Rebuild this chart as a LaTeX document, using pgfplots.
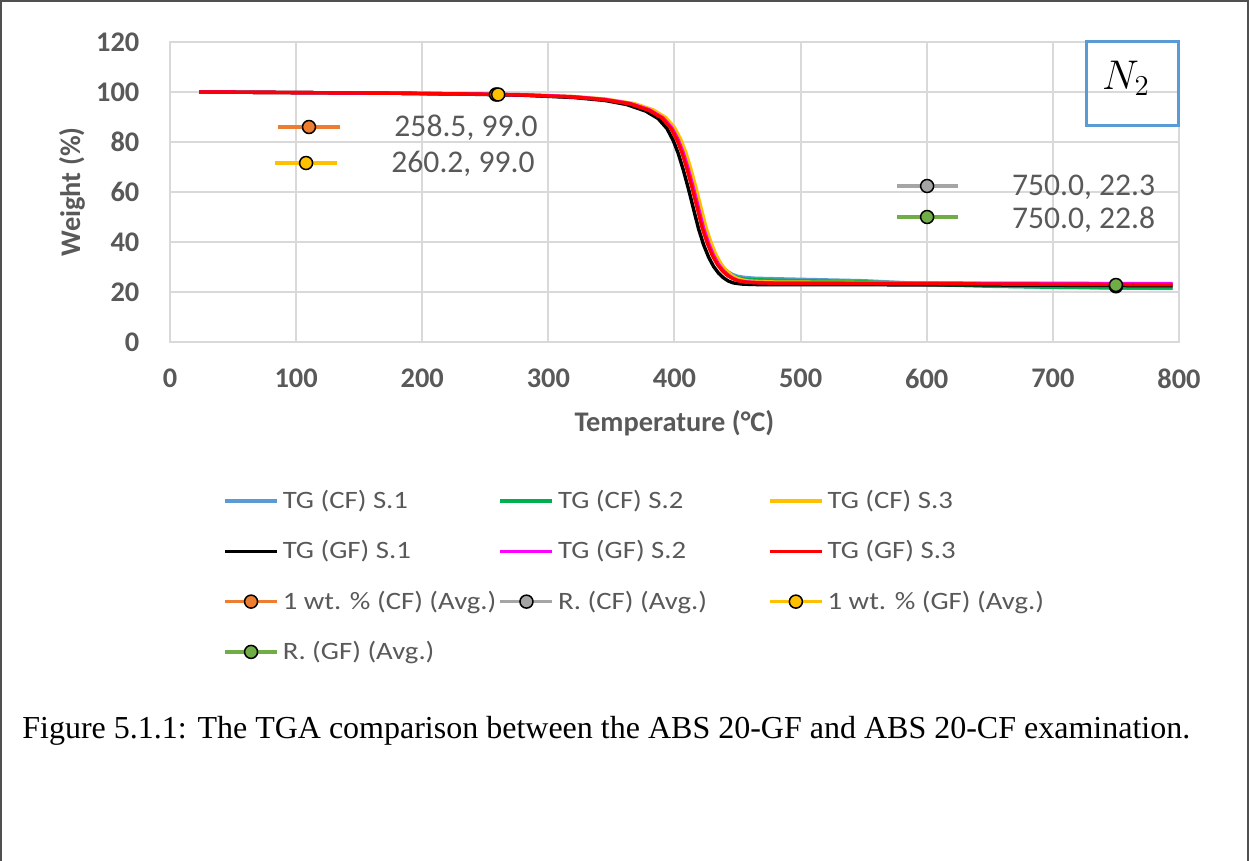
\documentclass[border=0pt]{standalone}
\usepackage{fontspec}
\setmainfont{Carlito}
\newfontfamily\legfont{Carlito}[FakeStretch=1.15]
\newfontfamily\capfont{Liberation Serif}
\usepackage{pgfplots}
\pgfplotsset{compat=1.18}

\definecolor{txtgray}{RGB}{89,89,89}
\definecolor{gridgray}{RGB}{217,217,217}
\definecolor{cfblue}{RGB}{91,155,213}
\definecolor{cfgreen}{RGB}{0,176,80}
\definecolor{cfyellow}{RGB}{255,192,0}
\definecolor{gfmagenta}{RGB}{255,0,255}
\definecolor{gfred}{RGB}{255,0,0}
\definecolor{avgorange}{RGB}{237,125,49}
\definecolor{avggray}{RGB}{165,165,165}
\definecolor{avggold}{RGB}{255,192,0}
\definecolor{avggreen}{RGB}{112,173,71}
\definecolor{framegray}{RGB}{80,80,80}

\begin{document}
\begin{tikzpicture}
% page = 1249x861 px at 0.5pt per px
\path[use as bounding box] (0pt,0pt) rectangle (624.5pt,-430.5pt);
\draw[framegray, line width=1pt] (0.5pt,-430.5pt) -- (0.5pt,-0.5pt) -- (623.9pt,-0.5pt) -- (623.9pt,-430.5pt);

\begin{axis}[
  at={(85pt,-171pt)}, anchor=south west,
  scale only axis, width=504.5pt, height=150pt,
  xmin=0, xmax=800, ymin=0, ymax=120,
  xtick={0,100,...,800}, ytick={0,20,...,120},
  grid=major,
  grid style={gridgray, line width=1pt},
  axis line style={gridgray, line width=1pt},
  major tick length=0pt,
  clip=false,
  /pgf/number format/assume math mode=true,
  tick label style={font=\fontsize{14.2}{14.2}\selectfont\bfseries, text=txtgray},
  xticklabel style={yshift=-9.8pt},
  yticklabel style={xshift=-11.8pt},
  xlabel={Temperature (°C)},
  ylabel={Weight (\%)},
  label style={font=\fontsize{14.2}{14.2}\selectfont\bfseries, text=txtgray},
  xlabel style={at={(axis description cs:0.5,-0.27)}, anchor=center},
  ylabel style={at={(axis description cs:-0.0971,0.5)}, anchor=center},
  legend columns=3,
  legend style={
    at={(axis description cs:0.0525,-0.48)}, anchor=north west,
    draw=none, fill=none, inner sep=0pt,
    font=\legfont\fontsize{12.5}{12.5}\selectfont, text=txtgray,
    row sep=10.5pt,
    /tikz/every odd column/.style={column sep=0pt},
    /tikz/every even column/.style={column sep=0pt},
  },
  legend cell align=left,
  legend image code/.code={
    \draw[mark repeat=2, mark phase=2, #1]
      plot coordinates {(0pt,0pt) (13pt,0pt) (26pt,0pt)};
  },
  every axis plot/.append style={line width=1.7pt},
]

% CF S.1
\addplot[cfblue, no marks] coordinates {
(23,100.0) (60,99.9) (120,99.7) (180,99.5) (240,99.2) (280,98.8) (320,98.0)
(345,96.9) (365,95.2) (380,92.7) (390,89.8) (397,86.0) (402,81.3) (406,76.2)
(410,69.8) (414,62.6) (418,54.8) (422,47.0) (426,41.0) (430,36.2) (434,32.6)
(438,30.0) (442,28.2) (446,27.0) (450,26.3) (456,25.8) (464,25.5) (480,25.3)
(550,24.5) (600,23.3) (650,22.5) (700,21.9) (750,21.6) (795,21.4)};
\addlegendentry{\makebox[106pt][l]{TG (CF) S.1}}

% CF S.2
\addplot[cfgreen, no marks] coordinates {
(23,100.0) (60,99.9) (120,99.7) (180,99.5) (240,99.2) (280,98.8) (320,98.0)
(345,97.0) (366,95.2) (381,92.7) (391,89.8) (398,86.0) (403,81.3) (407,76.2)
(411,69.8) (415,62.6) (419,54.8) (423,47.0) (427,41.0) (431,36.0) (435,32.2)
(439,29.5) (443,27.6) (447,26.3) (451,25.6) (457,25.1) (465,24.9) (480,24.7)
(550,24.1) (600,23.0) (650,22.3) (700,21.9) (750,21.7) (795,21.6)};
\addlegendentry{\makebox[103pt][l]{TG (CF) S.2}}

% CF S.3
\addplot[cfyellow, no marks] coordinates {
(23,100.0) (60,99.9) (120,99.7) (180,99.5) (240,99.2) (280,98.9) (320,98.2)
(345,97.2) (368,95.4) (383,92.9) (393,89.8) (400,85.8) (405,81.0) (409,75.8)
(413,69.2) (417,61.8) (421,53.8) (425,45.8) (429,39.7) (433,34.8) (437,31.2)
(441,28.6) (445,26.8) (449,25.6) (453,24.9) (459,24.4) (467,24.2) (480,24.0)
(550,23.8) (650,23.5) (750,23.3) (795,23.2)};
\addlegendentry{\makebox[106pt][l]{TG (CF) S.3}}

% GF S.1
\addplot[black, no marks] coordinates {
(23,100.0) (60,99.9) (120,99.7) (180,99.5) (240,99.1) (280,98.7) (320,97.8)
(345,96.6) (362,95.0) (377,92.4) (387,89.4) (394,85.4) (399,80.6) (403,75.4)
(407,68.8) (411,61.4) (415,53.4) (419,45.4) (423,39.0) (427,34.0) (431,30.2)
(435,27.5) (439,25.6) (443,24.3) (447,23.6) (453,23.2) (461,23.0) (480,22.9)
(550,22.9) (650,22.8) (750,22.6) (795,22.5)};
\addlegendentry{\makebox[106pt][l]{TG (GF) S.1}}

% GF S.2
\addplot[gfmagenta, no marks] coordinates {
(23,100.0) (60,99.9) (120,99.7) (180,99.5) (240,99.2) (280,98.9) (320,98.1)
(345,97.0) (365,95.4) (380,92.9) (391,89.6) (398,85.6) (403,80.8) (407,75.6)
(411,69.0) (415,61.6) (419,53.6) (423,45.6) (427,39.5) (431,34.6) (435,31.0)
(439,28.4) (443,26.6) (447,25.3) (451,24.5) (457,24.0) (465,23.8) (480,23.6)
(550,23.6) (650,23.5) (750,23.4) (795,23.4)};
\addlegendentry{\makebox[103pt][l]{TG (GF) S.2}}

% GF S.3
\addplot[gfred, no marks] coordinates {
(23,100.0) (60,99.9) (120,99.7) (180,99.5) (240,99.2) (280,98.8) (320,98.0)
(345,96.9) (365,95.2) (380,92.6) (390,89.6) (397,85.6) (402,80.8) (406,75.6)
(410,69.0) (414,61.6) (418,53.6) (422,45.6) (426,39.5) (430,34.6) (434,31.0)
(438,28.4) (442,26.6) (446,25.4) (450,24.6) (456,24.0) (464,23.7) (480,23.5)
(550,23.4) (650,23.2) (750,23.0) (795,22.9)};
\addlegendentry{\makebox[106pt][l]{TG (GF) S.3}}

% averaged points
\addplot[avgorange, mark=*, mark size=3.25pt,
  mark options={fill=avgorange, draw=black, line width=0.75pt}]
  coordinates {(258.5,99.0)};
\addlegendentry{\makebox[106pt][l]{1 wt. \% (CF) (Avg.)}}
\addplot[avggray, mark=*, mark size=3.25pt,
  mark options={fill=avggray, draw=black, line width=0.75pt}]
  coordinates {(750.0,22.3)};
\addlegendentry{\makebox[103pt][l]{R. (CF) (Avg.)}}
\addplot[avggold, mark=*, mark size=3.25pt,
  mark options={fill=avggold, draw=black, line width=0.75pt}]
  coordinates {(260.2,99.0)};
\addlegendentry{\makebox[106pt][l]{1 wt. \% (GF) (Avg.)}}
\addplot[avggreen, mark=*, mark size=3.25pt,
  mark options={fill=avggreen, draw=black, line width=0.75pt}]
  coordinates {(750.0,22.8)};
\addlegendentry{\makebox[106pt][l]{R. (GF) (Avg.)}}

% data label keys
\addplot[avgorange, forget plot, mark=*, mark size=3.25pt, mark repeat=2, mark phase=2,
  mark options={fill=avgorange, draw=black, line width=0.75pt}]
  coordinates {(85.6,86.0) (110.2,86.0) (134.8,86.0)};
\addplot[avggold, forget plot, mark=*, mark size=3.25pt, mark repeat=2, mark phase=2,
  mark options={fill=avggold, draw=black, line width=0.75pt}]
  coordinates {(83.3,71.6) (107.9,71.6) (132.4,71.6)};
\addplot[avggray, forget plot, mark=*, mark size=3.25pt, mark repeat=2, mark phase=2,
  mark options={fill=avggray, draw=black, line width=0.75pt}]
  coordinates {(576.5,62.4) (600.3,62.4) (624.9,62.4)};
\addplot[avggreen, forget plot, mark=*, mark size=3.25pt, mark repeat=2, mark phase=2,
  mark options={fill=avggreen, draw=black, line width=0.75pt}]
  coordinates {(576.5,50.0) (600.3,50.0) (624.9,50.0)};

\begin{scope}[every node/.style={font=\fontsize{15.8}{15.8}\selectfont, text=txtgray, inner sep=0pt}]
\node at (axis cs:234.7,85.6) {258.5, 99.0};
\node at (axis cs:232.3,71.2) {260.2, 99.0};
\node at (axis cs:724.4,61.8) {750.0, 22.3};
\node at (axis cs:724.4,48.8) {750.0, 22.8};
\end{scope}

\draw[cfblue, line width=1.5pt] (axis cs:726.5,86.8) rectangle (axis cs:799.5,120.4);
\node[font=\fontsize{20}{20}\selectfont] at (axis cs:758,105.6) {$N_2$};
\end{axis}

\node[anchor=base west, inner sep=0pt, font=\capfont\fontsize{16}{16}\selectfont] at (11pt,-369pt)
  {Figure 5.1.1: The TGA comparison between the ABS 20-GF and ABS 20-CF examination.};
\end{tikzpicture}
\end{document}
